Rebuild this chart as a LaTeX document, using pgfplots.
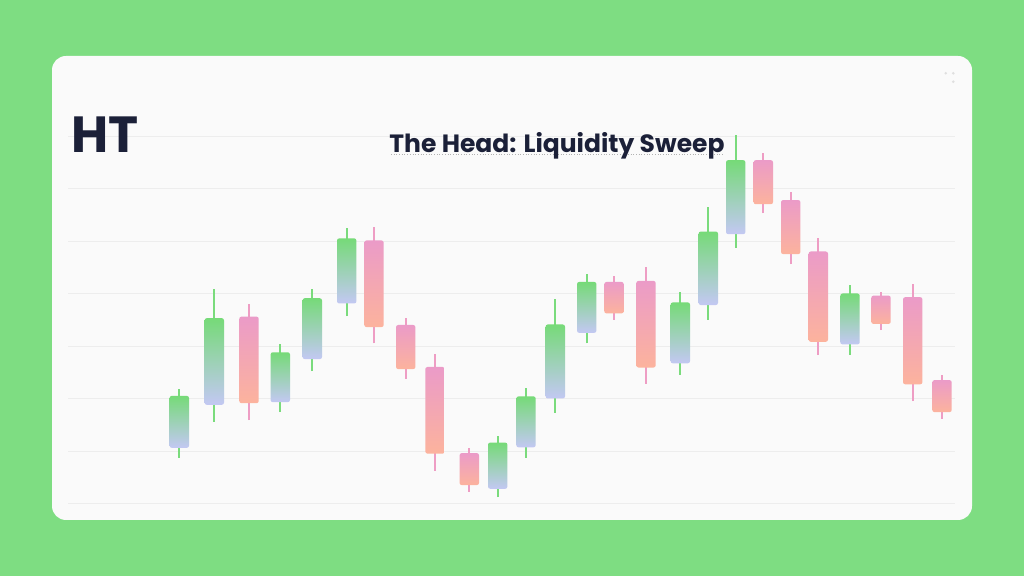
\documentclass[border=0pt]{standalone}
\usepackage{fontspec}
\setmainfont{Poppins}
\usepackage{pgfplots}
\pgfplotsset{compat=1.18}
\definecolor{bg}{HTML}{7EDD82}
\definecolor{card}{HTML}{FAFAFA}
\definecolor{gridc}{HTML}{EDEDED}
\definecolor{ink}{HTML}{1B2038}
\definecolor{gTop}{HTML}{76DA78}
\definecolor{gBot}{HTML}{C3C8F3}
\definecolor{gWick}{HTML}{7ADB7C}
\definecolor{pTop}{HTML}{EB9BC8}
\definecolor{pBot}{HTML}{FCB39D}
\definecolor{pWick}{HTML}{EE9DC4}
% #1 x, #2 left, #3 right, #4 open, #5 high, #6 low, #7 close
\newcommand\bull[7]{%
  \addplot[draw=gWick, line width=2.1bp, forget plot] coordinates {(#1,#6) (#1,#5)};
  \addplot[draw=none, top color=gTop, bottom color=gBot, rounded corners=2.2bp, forget plot]
    coordinates {(#2,#4) (#3,#4) (#3,#7) (#2,#7)} -- cycle;}
\newcommand\bear[7]{%
  \addplot[draw=pWick, line width=2.1bp, forget plot] coordinates {(#1,#6) (#1,#5)};
  \addplot[draw=none, top color=pTop, bottom color=pBot, rounded corners=2.2bp, forget plot]
    coordinates {(#2,#7) (#3,#7) (#3,#4) (#2,#4)} -- cycle;}
\begin{document}
\begin{tikzpicture}[x=1bp,y=1bp]
\useasboundingbox (0,0) rectangle (1024,576);
\fill[bg] (0,0) rectangle (1024,576);
\fill[card, rounded corners=14bp] (52,56) rectangle (972,520);
\begin{axis}[at={(68bp,72.5bp)}, anchor=south west, scale only axis,
  width=887bp, height=367.5bp,
  xmin=68, xmax=955, ymin=100, ymax=170,
  axis line style={draw=none},
  xtick=\empty, ytick={100,110,...,170}, yticklabels={},
  major tick length=0pt,
  ymajorgrids, grid style={draw=gridc, line width=0.8bp},
  clip=false]
\bull{179.3}{169.6}{189.0}{110.6}{121.9}{108.7}{120.5}
\bull{214.3}{204.6}{224.0}{118.8}{140.9}{115.6}{135.3}
\bear{249.0}{239.3}{258.7}{135.6}{138.0}{115.9}{119.1}
\bull{280.3}{270.6}{290.0}{119.3}{130.3}{117.4}{128.8}
\bull{312.3}{302.6}{322.0}{127.5}{140.9}{125.2}{139.1}
\bull{346.7}{337.0}{356.4}{138.1}{152.4}{135.7}{150.5}
\bear{374.0}{364.3}{383.7}{150.1}{152.6}{130.5}{133.6}
\bear{405.7}{396.0}{415.4}{134.0}{135.4}{123.8}{125.6}
\bear{435.0}{425.3}{444.7}{126.0}{128.5}{106.2}{109.5}
\bear{469.3}{459.6}{479.0}{109.6}{110.5}{102.2}{103.5}
\bull{497.7}{488.0}{507.4}{102.8}{112.9}{101.2}{111.6}
\bull{526.0}{516.3}{535.7}{110.7}{122.0}{108.7}{120.4}
\bull{555.3}{545.6}{565.0}{120.0}{139.0}{117.3}{134.1}
\bull{586.7}{577.0}{596.4}{132.5}{143.7}{130.5}{142.2}
\bear{614.0}{604.3}{623.7}{142.2}{143.3}{135.0}{136.2}
\bear{646.0}{636.3}{655.7}{142.4}{145.0}{122.8}{125.9}
\bull{680.3}{670.6}{690.0}{126.7}{140.2}{124.5}{138.3}
\bull{708.3}{698.6}{718.0}{137.8}{156.5}{135.0}{151.8}
\bull{735.7}{726.0}{745.4}{151.3}{170.2}{148.7}{165.4}
\bear{763.3}{753.6}{773.0}{165.4}{166.7}{155.3}{157.0}
\bear{790.7}{781.0}{800.4}{157.8}{159.4}{145.6}{147.5}
\bear{818.3}{808.6}{828.0}{148.0}{150.5}{128.3}{130.8}
\bull{850.0}{840.3}{859.7}{130.3}{141.6}{128.3}{140.0}
\bear{881.0}{871.3}{890.7}{139.6}{140.3}{133.0}{134.2}
\bear{912.7}{903.0}{922.4}{139.3}{141.8}{119.5}{122.7}
\bear{942.0}{932.3}{951.7}{123.5}{124.5}{116.1}{117.4}
\end{axis}
\draw[gray!60, dotted, line width=0.7bp] (391,422) -- (723,422);
\node[anchor=base, font=\fontsize{25.1}{30}\selectfont\bfseries, text=ink, inner sep=0pt] at (557,423) {The Head: Liquidity Sweep};
\node[anchor=base west, font=\fontsize{51}{60}\selectfont\bfseries, text=ink, inner sep=0pt] at (71.5,423) {HT};
\fill[gray!25] (945.7,502.7) circle (1.4) (953.3,502.7) circle (1.4) (953.3,494.3) circle (1.4);
\end{tikzpicture}
\end{document}
